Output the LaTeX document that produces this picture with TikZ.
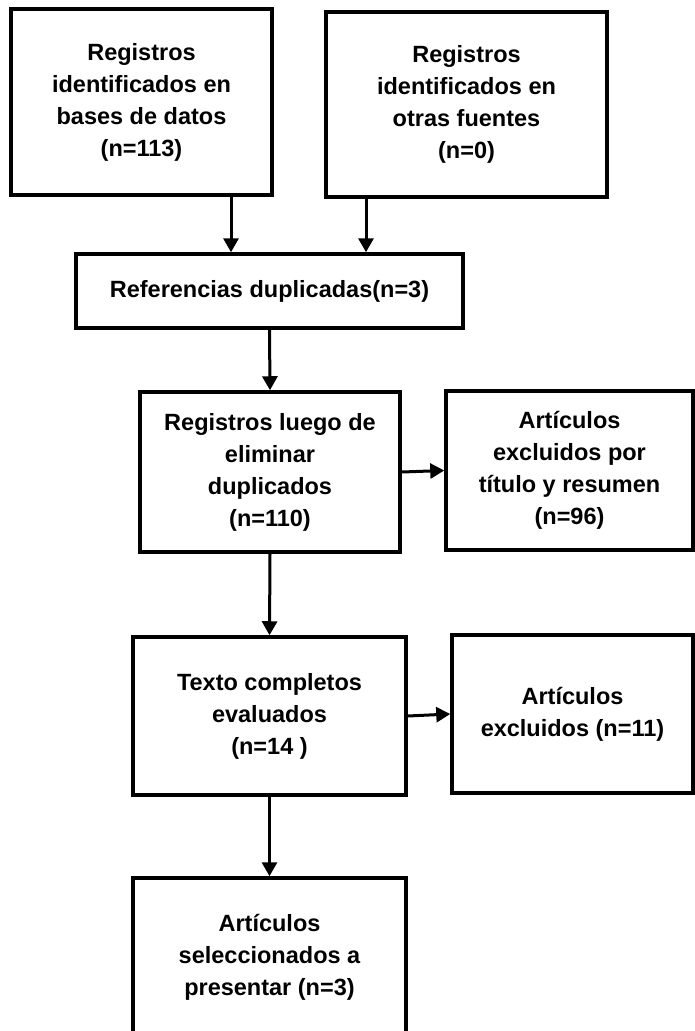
\documentclass[tikz,border=0pt]{standalone}
\usepackage{fontspec}
\setmainfont{Liberation Sans}
\usetikzlibrary{arrows.meta}

\tikzset{
  flowbox/.style={draw=black, line width=3.5pt, fill=white, rectangle,
    align=center, inner sep=0pt,
    font=\bfseries\fontsize{23.5pt}{32pt}\selectfont},
  flowarrow/.style={draw=black, line width=3pt,
    -{Triangle[width=15pt,length=14pt]}}
}

\begin{document}
\begin{tikzpicture}[x=1pt,y=-1pt]
  \useasboundingbox (0,0) rectangle (695,1031);
  \clip (0,0) rectangle (695,1031);

  % boxes
  \node[flowbox, minimum width=261pt, minimum height=186pt] (b1) at (141.5,102)
    {Registros\\identificados en\\bases de datos\\(n=113)};
  \node[flowbox, minimum width=281pt, minimum height=185pt] (b2) at (466.5,104.5)
    {Registros\\identificados en\\otras fuentes\\(n=0)};
  \node[flowbox, minimum width=387pt, minimum height=74pt] (b3) at (269.5,291)
    {Referencias duplicadas(n=3)};
  \node[flowbox, minimum width=260pt, minimum height=160pt] (b4) at (270,472)
    {Registros luego de\\eliminar\\duplicados\\(n=110)};
  \node[flowbox, minimum width=247pt, minimum height=159pt] (b5) at (569.5,470.5)
    {Artículos\\excluidos por\\título y resumen\\(n=96)};
  \node[flowbox, minimum width=273pt, minimum height=158pt] (b6) at (269.5,716)
    {Texto completos\\evaluados\\(n=14 )};
  \node[flowbox, minimum width=241pt, minimum height=158pt] (b7) at (572.5,714)
    {Artículos\\excluidos (n=11)};
  \node[flowbox, minimum width=273pt, minimum height=158pt] (b8) at (269.5,957)
    {Artículos\\seleccionados a\\presentar (n=3)};

  % columns of the two arrows that merge into the duplicates box
  \coordinate (c1) at (231,0);
  \coordinate (c2) at (366,0);

  % connectors
  \draw[flowarrow] (b1.south -| c1) -- (b3.north -| c1);
  \draw[flowarrow] (b2.south -| c2) -- (b3.north -| c2);
  \draw[flowarrow] (b3.south) -- (b4.north);
  \draw[flowarrow] (b4.east) -- (b5.west);
  \draw[flowarrow] (b4.south) -- (b6.north);
  \draw[flowarrow] (b6.east) -- (b7.west);
  \draw[flowarrow] (b6.south) -- (b8.north);
\end{tikzpicture}
\end{document}
